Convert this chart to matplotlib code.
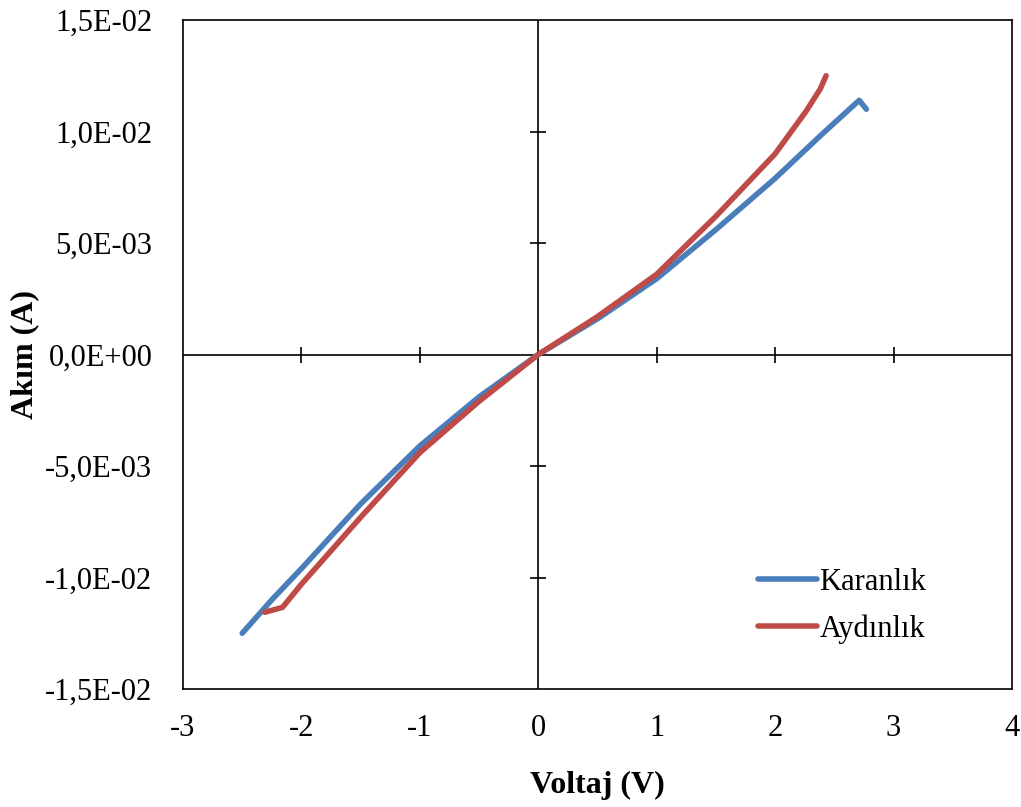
import matplotlib
matplotlib.use("Agg")
import matplotlib.pyplot as plt
from matplotlib.ticker import FuncFormatter

plt.rcParams['font.family'] = ['Liberation Serif', 'DejaVu Serif']
plt.rcParams['axes.unicode_minus'] = False

# Karanlik (dark) sweep
v_dark = [-2.50, -2.25, -2.0, -1.5, -1.0, -0.5, 0.0, 0.5, 1.0, 1.5, 2.0, 2.4, 2.71, 2.77]
i_dark = [-0.0125, -0.0110, -0.0096, -0.0067, -0.0041, -0.0019, 0.0, 0.0016, 0.0034,
          0.0056, 0.0079, 0.0099, 0.0114, 0.0110]

# Aydinlik (light) sweep
v_light = [-2.31, -2.16, -2.0, -1.5, -1.0, -0.5, 0.0, 0.5, 1.0, 1.5, 2.0, 2.26, 2.38, 2.43]
i_light = [-0.01156, -0.01134, -0.0103, -0.0073, -0.0044, -0.0021, 0.0, 0.0017, 0.0036,
           0.0062, 0.0090, 0.0109, 0.0119, 0.0125]

xticks = [-3, -2, -1, 0, 1, 2, 3, 4]
yticks = [-0.015, -0.01, -0.005, 0.0, 0.005, 0.01, 0.015]

fig = plt.figure(figsize=(10.21, 8.07), dpi=100)
ax = fig.add_axes([183 / 1021, (807 - 689) / 807, (1012 - 183) / 1021, (689 - 20) / 807])

ax.plot(v_dark, i_dark, color="#4A7EBB", lw=4, label="Karanlık", solid_capstyle="round")
ax.plot(v_light, i_light, color="#BE4B48", lw=4, label="Aydınlık", solid_capstyle="round")

ax.set_xlim(-3, 4)
ax.set_ylim(-0.015, 0.015)
ax.set_xticks(xticks)
ax.set_yticks(yticks)
ax.yaxis.set_major_formatter(FuncFormatter(lambda v, p: f"{v:.1E}".replace('.', ',').replace('-0,0', '0,0')))
ax.tick_params(axis='both', length=0, labelsize=22)
ax.tick_params(axis='x', pad=18)
ax.tick_params(axis='y', pad=22)
for s in ax.spines.values():
    s.set_linewidth(1.2)
    s.set_color("black")

# axes crossing at zero, with crossing tick marks
ax.axhline(0, color="black", lw=1.2, zorder=1)
ax.axvline(0, color="black", lw=1.2, zorder=1)
ax.plot([t for t in xticks if -3 < t < 4 and t != 0], [0] * 5, ls="none", marker="|",
        ms=11, mew=1.2, color="black", zorder=1)
ax.plot([0] * 4, [t for t in yticks if abs(t) < 0.015 and t != 0], ls="none", marker="_",
        ms=11, mew=1.2, color="black", zorder=1)

ax.set_xlabel("Voltaj (V)", fontsize=23, fontweight="bold", labelpad=20)
ax.set_ylabel("Akım (A)", fontsize=23, fontweight="bold", labelpad=4)

ax.legend(loc="upper left", bbox_to_anchor=(0.661, 0.2225), frameon=False, fontsize=22,
          handlelength=1.9, handletextpad=0.1, labelspacing=0.58)

fig.savefig("out.png", dpi=100)
